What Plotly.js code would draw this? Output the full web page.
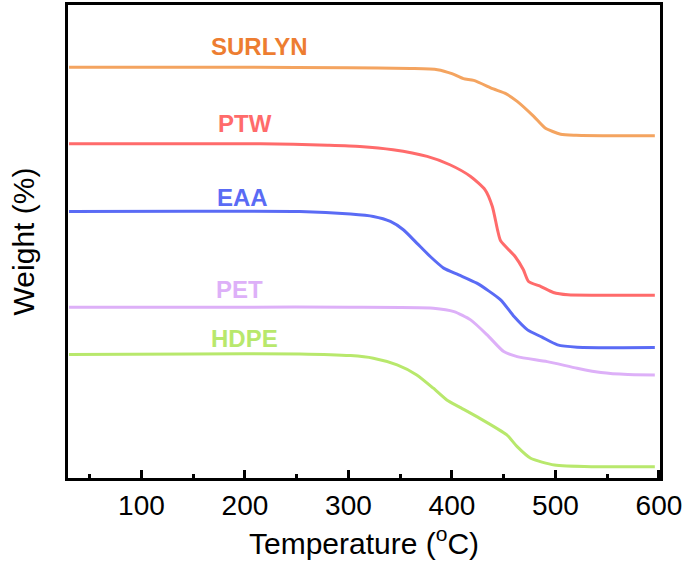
<!DOCTYPE html>
<html><head><meta charset="utf-8">
<script src="https://cdn.plot.ly/plotly-3.0.1.min.js"></script>
<style>html,body{margin:0;padding:0;background:#fff}#chart{width:687px;height:565px}</style>
</head><body><div id="chart"></div>
<script>
// Temperature (°C) and relative weight (arbitrary offset units, curves stacked)
const surlynT = [30, 100, 200, 300, 360, 386, 400, 411, 421, 440, 452, 463, 479, 490, 505, 520, 560, 596];
const surlynW = [410.5, 410.5, 410.3, 410, 409.2, 408, 404, 399, 397.3, 388.7, 384, 376.3, 361.3, 349.7, 343.5, 342.5, 342, 342];

const ptwT = [30, 150, 215, 280, 311, 343, 376, 398, 418, 432, 439, 444, 447, 461, 469, 474, 486, 498, 512, 550, 596];
const ptwW = [334, 334, 334, 332.5, 331.3, 328, 321.3, 313, 301.3, 288, 271.3, 248, 237, 221.3, 208, 196.3, 191.3, 185.3, 183, 182.7, 182.7];

const eaaT = [30, 150, 253, 302, 324, 340.5, 353, 366, 379, 392, 406.5, 424, 447, 460, 473, 487, 502, 521, 596];
const eaaW = [266.3, 266.5, 266.3, 263.7, 261.3, 256.3, 248, 234.7, 221.3, 209.7, 203, 194.7, 178, 161.3, 148, 140.7, 133, 130.7, 130.3];

const petT = [30, 200, 300, 382, 402, 418, 434, 450, 463, 492, 521, 544, 570, 596];
const petW = [170.7, 170.7, 170.7, 169.7, 166.3, 158, 143, 126.3, 121.3, 116.3, 109.7, 105.3, 103.3, 103];

const hdpeT = [30, 150, 253, 302, 324, 347, 366, 382, 395, 406.5, 424, 453, 463, 476, 499, 537, 596];
const hdpeW = [123.5, 124, 124, 122.3, 119.7, 113, 103, 89.7, 78, 71.3, 61.3, 43, 31.3, 19.7, 13, 11.3, 11.3];

const seriesNames = ["SURLYN", "PTW", "EAA", "PET", "HDPE"];
const tickValues = [100, 200, 300, 400, 500, 600];

const lineColors = ["#F4A460", "#FF6B6B", "#5A6BF5", "#DDB0F8", "#B8E86C"];
const labelColors = ["#ED7D31", "#FF6B6B", "#5A6BF5", "#DDB0F8", "#B8E86C"];
const labelPos = [[214, 431], [200, 354], [198, 280.5], [195, 188], [200, 139.5]];

const xs = [surlynT, ptwT, eaaT, petT, hdpeT];
const ys = [surlynW, ptwW, eaaW, petW, hdpeW];

const font = "Arial, 'Liberation Sans', sans-serif";
const traces = seriesNames.map((n, i) => ({
  x: xs[i], y: ys[i], name: n, type: "scatter", mode: "lines",
  line: {color: lineColors[i], width: 3, shape: "spline", smoothing: 0.6},
  hoverinfo: "skip"
}));

const annotations = seriesNames.map((n, i) => ({
  x: labelPos[i][0], y: labelPos[i][1], xref: "x", yref: "y",
  text: "<b>" + n + "</b>", showarrow: false,
  font: {family: font, size: 24, color: labelColors[i]}
}));

const layout = {
  width: 687, height: 565,
  margin: {l: 68, r: 27, t: 5, b: 87},
  paper_bgcolor: "#fff", plot_bgcolor: "#fff",
  showlegend: false,
  font: {family: font, color: "#000"},
  xaxis: {
    range: [29, 601], tickvals: tickValues, ticktext: tickValues.map(String),
    ticks: "inside", ticklen: 8, tickwidth: 3, tickcolor: "#000",
    minor: {dtick: 50, tick0: 0, ticks: "inside", ticklen: 4, tickwidth: 3, tickcolor: "#000", showgrid: false},
    showgrid: false, zeroline: false,
    showline: true, linewidth: 3, linecolor: "#000", mirror: true,
    tickfont: {family: font, size: 28, color: "#000"},
    title: {text: "Temperature (<sup>o</sup>C)", font: {family: font, size: 30, color: "#000"}, standoff: 14}
  },
  yaxis: {
    range: [0, 472.6], showticklabels: false, ticks: "",
    showgrid: false, zeroline: false,
    showline: true, linewidth: 3, linecolor: "#000", mirror: true,
    title: {text: "Weight (%)", font: {family: font, size: 30, color: "#000"}, standoff: 22}
  },
  annotations: annotations
};

Plotly.newPlot("chart", traces, layout, {displayModeBar: false, staticPlot: true});
</script></body></html>
